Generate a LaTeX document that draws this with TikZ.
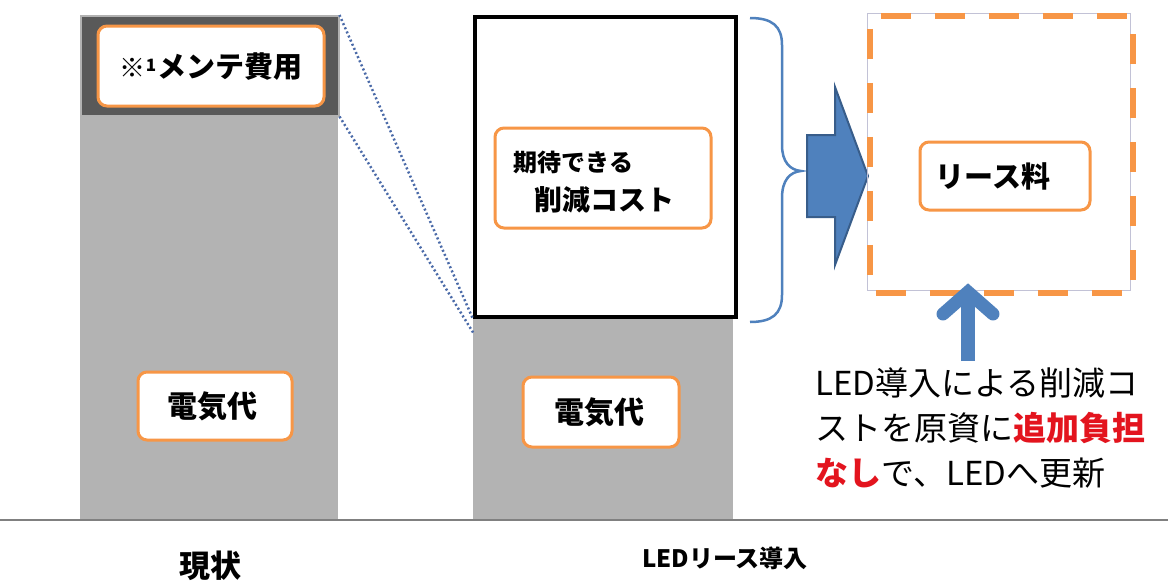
\documentclass[tikz,border=0pt]{standalone}
\usepackage{fontspec}
\setmainfont{Noto Sans CJK JP}
\definecolor{org}{HTML}{F79646}
\definecolor{blu}{HTML}{4F81BD}
\definecolor{bludk}{HTML}{385D8A}
\definecolor{lgray}{HTML}{B3B3B3}
\definecolor{dgray}{HTML}{595959}
\definecolor{redt}{HTML}{E3141E}
\definecolor{dotb}{HTML}{4A6AA8}
\tikzset{
  lab/.style={draw=org, line width=3pt, fill=white, rounded corners=9pt, inner sep=0pt},
  fs/.style={font=\fontsize{#1}{#1}\selectfont\bfseries},
}
\begin{document}
\begin{tikzpicture}[x=1pt,y=-1pt]
\useasboundingbox[fill=white] (0,0) rectangle (1168,581);
% left bar
\node[fill=lgray, minimum width=258pt, minimum height=405pt, anchor=north west, inner sep=0pt] (elec1) at (80,115) {};
\node[fill=dgray, draw=gray!60, line width=1.5pt, minimum width=258pt, minimum height=100pt, anchor=north west, inner sep=0pt] (maint) at (80,15) {};
% middle
\node[fill=lgray, minimum width=260pt, minimum height=205pt, anchor=north west, inner sep=0pt] (elec2) at (473,315) {};
\node[fill=white, draw=black, line width=4pt, minimum width=261pt, minimum height=300pt, anchor=north west, inner sep=0pt] (save) at (473,15) {};
% baseline
\draw[gray, line width=1.5pt] (0,520) coordinate (bl) -- (1168,520) coordinate (br);
% dotted lines
\draw[dotb, line width=2.5pt, dash pattern=on 2pt off 2.5pt] (maint.north east) -- (save.south west);
\coordinate (d2) at (474,334);
\draw[dotb, line width=2.5pt, dash pattern=on 2pt off 2.5pt] (maint.south east) -- (d2);
% labels
\node[lab, minimum width=226pt, minimum height=80pt] (lm) at (211,66) {};
\node[fs=29] (tm) at (211,67) {{\fontsize{26}{26}\selectfont\mdseries ※}\raisebox{6pt}{\fontsize{17}{17}\selectfont 1}\kern1pt メンテ費用};
\node[lab, minimum width=154pt, minimum height=68pt] (le1) at (215,406) {};
\node[fs=30] (te1) at (212,406) {電気代};
\node[lab, minimum width=156pt, minimum height=70pt] (le2) at (601,412) {};
\node[fs=30] (te2) at (599,412) {電気代};
\node[lab, minimum width=216pt, minimum height=100pt] (ls) at (603,178) {};
\node[fs=24, anchor=west] (ts1) at (510,162) {期待できる};
\node[fs=28, anchor=west] (ts2) at (531,200) {削減コスト};
% brace
\coordinate (bt) at (750,18);
\coordinate (bb) at (750,322);
\coordinate (btip) at (801,171);
\draw[blu, line width=2.5pt] (bt) .. controls (772,18) and (782,26) .. (782,45) -- (782,145)
  .. controls (782,162) and (790,170) .. (btip)
  .. controls (790,172) and (782,180) .. (782,198) -- (782,295)
  .. controls (782,314) and (772,322) .. (bb);
% big arrow
\draw[bludk, fill=blu, line width=2pt] (807,135) -- (835,135) -- (835,87) -- (868,176) -- (835,265) -- (835,217) -- (807,217) -- cycle;
% lease box
\draw[blue!20!gray!40, line width=1pt] (867,13) rectangle (1130,290);
\node[draw=org, line width=5.5pt, dash pattern=on 30pt off 24pt, dash phase=-6pt, minimum width=263pt, minimum height=277pt, anchor=north west, inner sep=0pt] (lease) at (867,13) {};
\node[lab, minimum width=170pt, minimum height=68pt] (ll) at (1005,176) {};
\node[fs=29, anchor=west] (tl) at (932,176) {リース料};
% up arrow
\coordinate (ua) at (968,361);
\draw[blu, line width=14pt] (ua) -- (968,300);
\draw[blu, line width=13pt, line cap=round, line join=miter] (943,314) -- (968,292) -- (993,314);
% text
\node[anchor=west, align=left, font=\fontsize{33}{45}\selectfont] (note) at (812,428) {LED導入による削減コ\\ストを原資に{\color{redt}\bfseries 追加負担}\\{\color{redt}\bfseries なし}で、LEDへ更新};
% bottom labels
\node[fs=31] (c1) at (210,566) {現状};
\node[fs=24] (c2) at (725,558) {LEDリース導入};
\end{tikzpicture}
\end{document}
